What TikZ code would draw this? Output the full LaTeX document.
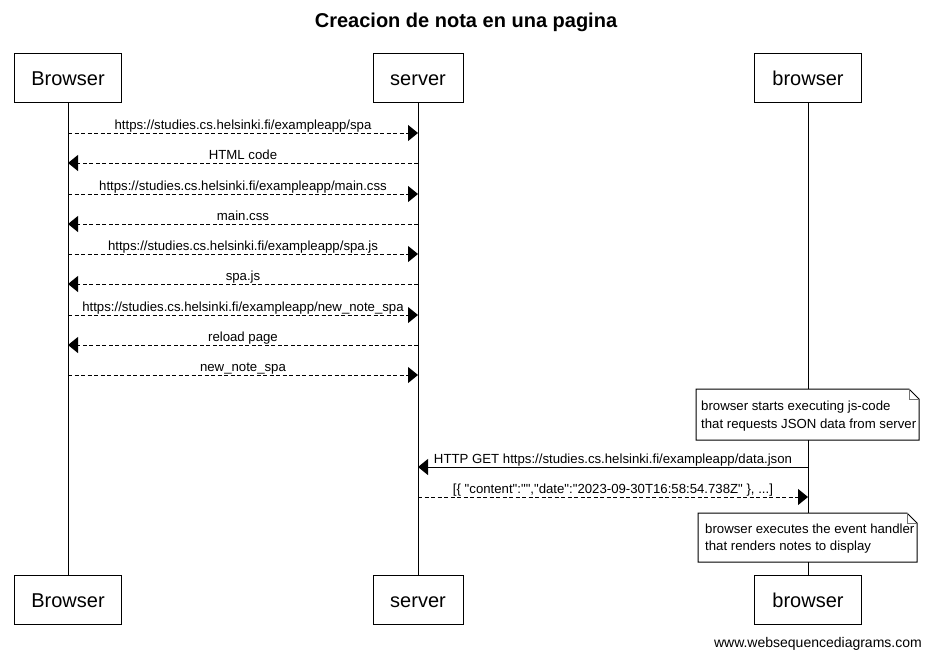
\documentclass[tikz,border=0pt]{standalone}
\usepackage{fontspec}
\setmainfont{Liberation Sans}[Ligatures=TeXOff]
\usetikzlibrary{arrows.meta,calc}
\newcommand{\dq}{\symbol{34}}
\begin{document}
\begin{tikzpicture}[x=1pt,y=-1pt,
  actor/.style={draw, line width=1pt, minimum height=49pt, inner sep=0pt, fill=white,
    text height=15pt, text depth=0pt, font=\fontsize{20}{24}\selectfont},
  msglabel/.style={font=\fontsize{13.2}{15}\selectfont, anchor=base, inner sep=0pt},
  callarrow/.style={line width=1pt, dash pattern=on 4pt off 2.5pt, -{Triangle[length=10pt,width=16pt]}},
  syncarrow/.style={line width=1pt, -{Triangle[length=10pt,width=16pt]}},
  life/.style={line width=1pt},
  notebox/.style={fill=white, inner sep=0pt, align=left, anchor=north west,
    font=\fontsize{13.2}{17.5}\selectfont},
  noteline/.style={line width=1pt},
  notefold/.style={line width=0.8pt, draw=black!55}]
\useasboundingbox (0,0) rectangle (931,657);

% title
\node[font=\bfseries\fontsize{20}{24}\selectfont] (title) at (466,22) {Creacion de nota en una pagina};

% actors
\node[actor, minimum width=107pt] (Btop) at (68,77.5) {Browser};
\node[actor, minimum width=90pt]  (Stop) at (418,77.5) {server};
\node[actor, minimum width=107pt] (btop) at (808,77.5) {browser};
\node[actor, minimum width=107pt] (Bbot) at (68,599.5) {Browser};
\node[actor, minimum width=90pt]  (Sbot) at (418,599.5) {server};
\node[actor, minimum width=107pt] (bbot) at (808,599.5) {browser};

% lifelines
\draw[life] (Btop.south) -- (Bbot.north);
\draw[life] (Stop.south) -- (Sbot.north);
\draw[life] (btop.south) -- (bbot.north);

% message anchor points
\coordinate (B1) at (68,133);  \coordinate (S1) at (418,133);
\coordinate (B2) at (68,163);  \coordinate (S2) at (418,163);
\coordinate (B3) at (68,194);  \coordinate (S3) at (418,194);
\coordinate (B4) at (68,224);  \coordinate (S4) at (418,224);
\coordinate (B5) at (68,254);  \coordinate (S5) at (418,254);
\coordinate (B6) at (68,284);  \coordinate (S6) at (418,284);
\coordinate (B7) at (68,315);  \coordinate (S7) at (418,315);
\coordinate (B8) at (68,345);  \coordinate (S8) at (418,345);
\coordinate (B9) at (68,375);  \coordinate (S9) at (418,375);
\coordinate (S10) at (418,467); \coordinate (b10) at (808,467);
\coordinate (S11) at (418,497); \coordinate (b11) at (808,497);

% messages
\draw[callarrow] (B1) -- (S1);
\node[msglabel] (m1) at ($(B1)!0.5!(S1)+(0,-4)$) {https://studies.cs.helsinki.fi/exampleapp/spa};
\draw[callarrow] (S2) -- (B2);
\node[msglabel] (m2) at ($(B2)!0.5!(S2)+(0,-4)$) {HTML code};
\draw[callarrow] (B3) -- (S3);
\node[msglabel] (m3) at ($(B3)!0.5!(S3)+(0,-4)$) {https://studies.cs.helsinki.fi/exampleapp/main.css};
\draw[callarrow] (S4) -- (B4);
\node[msglabel] (m4) at ($(B4)!0.5!(S4)+(0,-4)$) {main.css};
\draw[callarrow] (B5) -- (S5);
\node[msglabel] (m5) at ($(B5)!0.5!(S5)+(0,-4)$) {https://studies.cs.helsinki.fi/exampleapp/spa.js};
\draw[callarrow] (S6) -- (B6);
\node[msglabel] (m6) at ($(B6)!0.5!(S6)+(0,-4)$) {spa.js};
\draw[callarrow] (B7) -- (S7);
\node[msglabel] (m7) at ($(B7)!0.5!(S7)+(0,-4)$) {https://studies.cs.helsinki.fi/exampleapp/new\_note\_spa};
\draw[callarrow] (S8) -- (B8);
\node[msglabel] (m8) at ($(B8)!0.5!(S8)+(0,-4)$) {reload page};
\draw[callarrow] (B9) -- (S9);
\node[msglabel] (m9) at ($(B9)!0.5!(S9)+(0,-4)$) {new\_note\_spa};
\draw[syncarrow] (b10) -- (S10);
\node[msglabel] (m10) at ($(S10)!0.5!(b10)+(0,-4)$) {HTTP GET https://studies.cs.helsinki.fi/exampleapp/data.json};
\draw[callarrow] (S11) -- (b11);
\node[msglabel] (m11) at ($(S11)!0.5!(b11)+(0,-4)$) {[\{ \dq content\dq :\dq\dq ,\dq date\dq :\dq 2023-09-30T16:58:54.738Z\dq\ \}, ...]};

% notes
\fill[white] (696,389) rectangle (919,440);
\node[notebox] (n1) at (701,401) {browser starts executing js-code\\that requests JSON data from server};
\draw[noteline] (696,389) -- (909,389) -- (919,399) -- (919,440) -- (696,440) -- cycle;
\draw[notefold] (909,389) -- (909,399) -- (919,399);

\fill[white] (698,513) rectangle (917,562);
\node[notebox] (n2) at (705,523.5) {browser executes the event handler\\that renders notes to display};
\draw[noteline] (698,513) -- (907,513) -- (917,523) -- (917,562) -- (698,562) -- cycle;
\draw[notefold] (907,513) -- (907,523) -- (917,523);

% footer
\node[font=\fontsize{14}{16}\selectfont, anchor=base east, inner sep=0pt] (footer) at (922,647) {www.websequencediagrams.com};
\end{tikzpicture}
\end{document}
